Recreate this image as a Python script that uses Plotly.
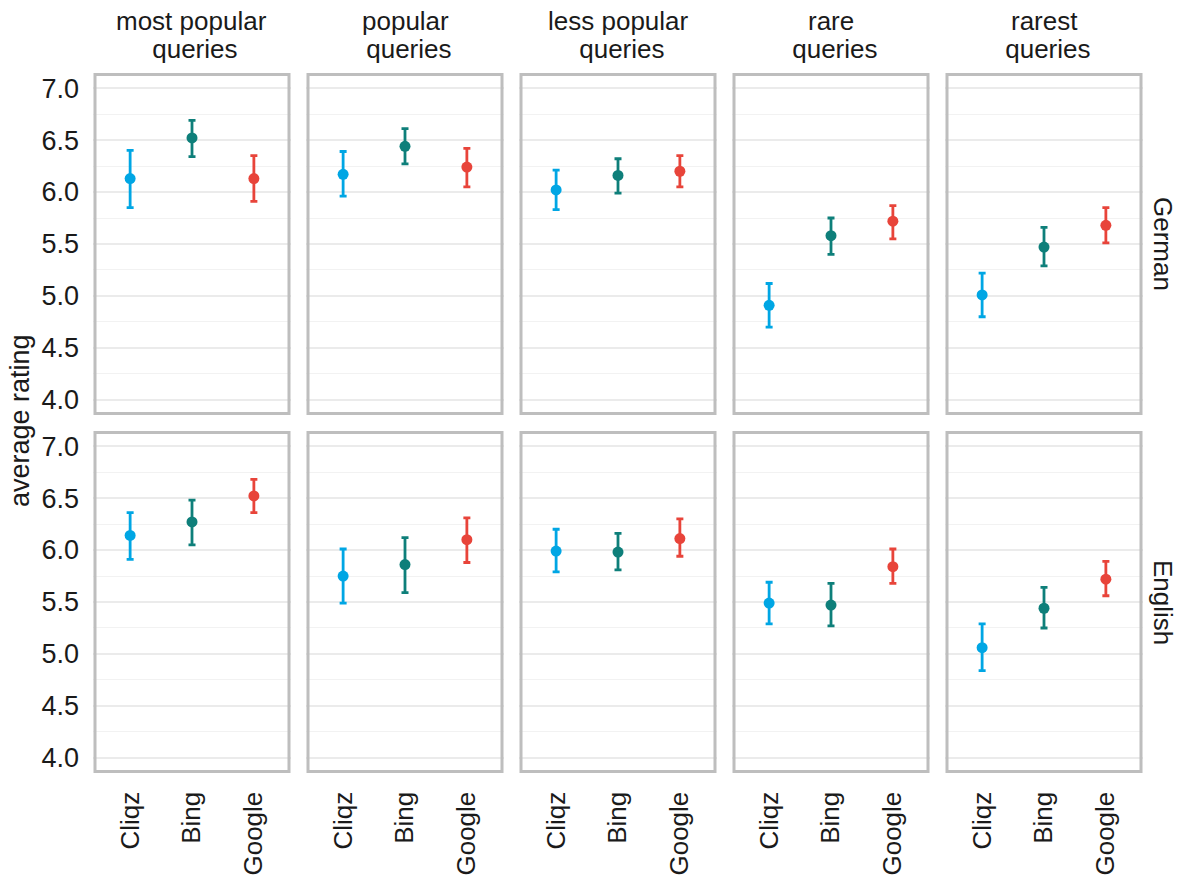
import plotly.graph_objects as go

# ---- data ----
engines = ["Cliqz", "Bing", "Google"]
col_line1 = ["most popular", "popular", "less popular", "rare", "rarest"]
col_line2 = ["queries", "queries", "queries", "queries", "queries"]
row_labels = ["German", "English"]
y_ticks = [4.0, 4.5, 5.0, 5.5, 6.0, 6.5, 7.0]

german_cliqz_mean = [6.13, 6.17, 6.02, 4.91, 5.01]
german_cliqz_low = [5.85, 5.96, 5.83, 4.70, 4.80]
german_cliqz_high = [6.40, 6.39, 6.21, 5.12, 5.22]
german_bing_mean = [6.52, 6.44, 6.16, 5.58, 5.47]
german_bing_low = [6.34, 6.27, 5.99, 5.40, 5.29]
german_bing_high = [6.69, 6.61, 6.32, 5.75, 5.66]
german_google_mean = [6.13, 6.24, 6.20, 5.72, 5.68]
german_google_low = [5.91, 6.05, 6.05, 5.55, 5.51]
german_google_high = [6.35, 6.42, 6.35, 5.87, 5.85]

english_cliqz_mean = [6.14, 5.75, 5.99, 5.49, 5.06]
english_cliqz_low = [5.91, 5.49, 5.79, 5.29, 4.84]
english_cliqz_high = [6.36, 6.01, 6.20, 5.69, 5.29]
english_bing_mean = [6.27, 5.86, 5.98, 5.47, 5.44]
english_bing_low = [6.05, 5.59, 5.81, 5.27, 5.25]
english_bing_high = [6.48, 6.12, 6.16, 5.68, 5.64]
english_google_mean = [6.52, 6.10, 6.11, 5.84, 5.72]
english_google_low = [6.36, 5.88, 5.94, 5.68, 5.56]
english_google_high = [6.68, 6.31, 6.30, 6.01, 5.89]

colors = {"Cliqz": "#00A6E4", "Bing": "#0E7F7A", "Google": "#E8443A"}

rows = [
    {"Cliqz": (german_cliqz_mean, german_cliqz_low, german_cliqz_high),
     "Bing": (german_bing_mean, german_bing_low, german_bing_high),
     "Google": (german_google_mean, german_google_low, german_google_high)},
    {"Cliqz": (english_cliqz_mean, english_cliqz_low, english_cliqz_high),
     "Bing": (english_bing_mean, english_bing_low, english_bing_high),
     "Google": (english_google_mean, english_google_low, english_google_high)},
]

# ---- layout geometry (pixels) ----
W, H = 1181, 876
panel_left0 = 93
panel_w = 198
panel_step = 213
row_tops = [72.5, 430.5]
panel_h = 343

FONT = "Liberation Sans, Arial, Helvetica, sans-serif"
TXT = "#1a1a1a"

fig = go.Figure()
layout = dict(
    width=W, height=H,
    margin=dict(l=0, r=0, t=0, b=0),
    paper_bgcolor="white", plot_bgcolor="white",
    showlegend=False,
    font=dict(family=FONT, color=TXT),
)
shapes = []
annotations = []

for r in range(2):
    for c in range(5):
        idx = r * 5 + c + 1
        xname = "x" if idx == 1 else f"x{idx}"
        yname = "y" if idx == 1 else f"y{idx}"
        xkey = "xaxis" if idx == 1 else f"xaxis{idx}"
        ykey = "yaxis" if idx == 1 else f"yaxis{idx}"
        x0 = panel_left0 + c * panel_step
        y0 = row_tops[r]
        layout[xkey] = dict(
            domain=[x0 / W, (x0 + panel_w) / W],
            anchor=yname,
            type="category",
            categoryorder="array", categoryarray=engines,
            range=[-0.6, 2.6],
            showgrid=False, zeroline=False, showline=False,
            showticklabels=(r == 1),
            tickangle=-90,
            tickfont=dict(size=26, color=TXT, family=FONT),
            ticks="", ticklabelstandoff=12,
            automargin=False,
        )
        layout[ykey] = dict(
            domain=[1 - (y0 + panel_h) / H, 1 - y0 / H],
            anchor=xname,
            range=[3.85, 7.15],
            tickvals=y_ticks,
            tickformat=".1f",
            showgrid=True, gridcolor="#EBEBEB", gridwidth=2,
            minor=dict(dtick=0.25, tick0=4.0, showgrid=True, gridcolor="#F2F2F2", gridwidth=1),
            zeroline=False, showline=False,
            showticklabels=(c == 0),
            tickfont=dict(size=27, color=TXT, family=FONT),
            ticks="", ticklabelstandoff=13,
            automargin=False,
        )
        for eng in engines:
            mean, low, high = rows[r][eng]
            m = mean[c]
            fig.add_trace(go.Scatter(
                x=[eng], y=[m],
                xaxis=xname, yaxis=yname,
                mode="markers",
                marker=dict(color=colors[eng], size=11, line=dict(width=0)),
                error_y=dict(type="data", symmetric=False,
                             array=[high[c] - m], arrayminus=[m - low[c]],
                             color=colors[eng], thickness=2.8, width=3.5),
                hoverinfo="skip",
            ))
        # panel border
        ins_x = 2 / panel_w
        ins_y = 2 / panel_h
        shapes.append(dict(
            type="rect", xref=f"{xname} domain", yref=f"{yname} domain",
            x0=ins_x, x1=1 - ins_x, y0=ins_y, y1=1 - ins_y,
            line=dict(color="#BEBEBE", width=3), fillcolor="rgba(0,0,0,0)",
            layer="above",
        ))

# strip titles (columns)
for c in range(5):
    cx = (panel_left0 + c * panel_step + panel_w / 2) / W
    annotations.append(dict(
        text=col_line1[c], x=cx, y=1 - 21 / H, xref="paper", yref="paper",
        xanchor="center", yanchor="middle", showarrow=False,
        font=dict(size=26, color=TXT, family=FONT),
    ))
    annotations.append(dict(
        text="\u00a0" + col_line2[c], x=cx, y=1 - 49 / H, xref="paper", yref="paper",
        xanchor="center", yanchor="middle", showarrow=False,
        font=dict(size=26, color=TXT, family=FONT),
    ))

# strip titles (rows)
for r in range(2):
    cy = 1 - (row_tops[r] + panel_h / 2) / H
    annotations.append(dict(
        text=row_labels[r], x=1163 / W, y=cy, xref="paper", yref="paper",
        xanchor="center", yanchor="middle", showarrow=False, textangle=90,
        font=dict(size=26, color=TXT, family=FONT),
    ))

# y axis title
annotations.append(dict(
    text="average rating", x=20 / W, y=1 - 421 / H, xref="paper", yref="paper",
    xanchor="center", yanchor="middle", showarrow=False, textangle=-90,
    font=dict(size=27, color=TXT, family=FONT),
))

layout["shapes"] = shapes
layout["annotations"] = annotations
fig.update_layout(**layout)
fig.write_html("out.html")
